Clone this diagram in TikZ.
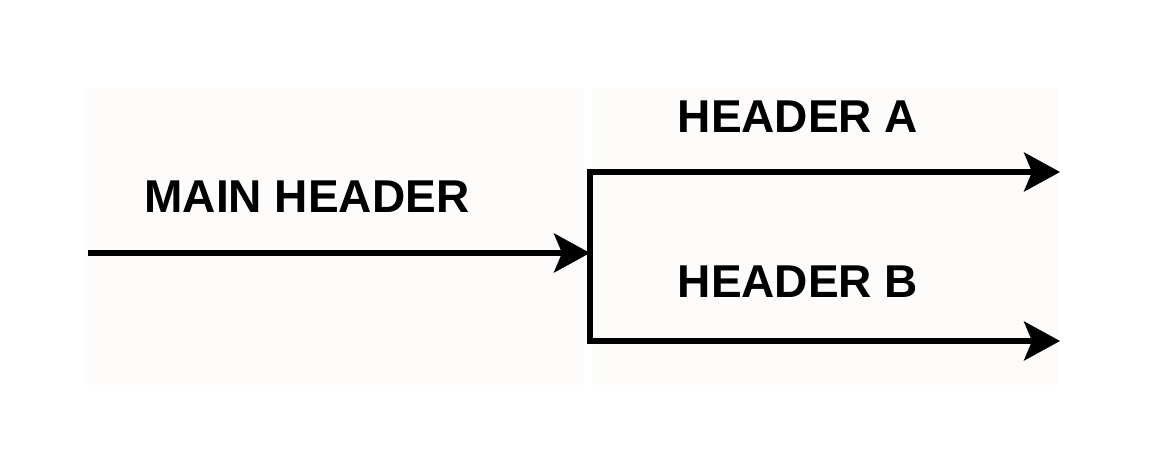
\documentclass[tikz,border=0pt]{standalone}
\usepackage{fontspec}
\setmainfont{Liberation Sans}
\usetikzlibrary{arrows.meta}
\definecolor{paper}{RGB}{254,252,250}

\begin{document}
\begin{tikzpicture}[
  every node/.style={font=\fontsize{26.2pt}{28pt}\selectfont\bfseries, inner sep=0pt},
  flow/.style={line width=2.95pt,
               -{Stealth[length=0.72cm, width=0.78cm, inset=0.16cm]}},
  panel/.style={fill=paper, draw=none}
]
\useasboundingbox (0,0) rectangle (23.48,-9.48);
\fill[panel] (1.68,-1.76) rectangle (11.66,-7.7);
\fill[panel] (11.86,-1.76) rectangle (21.16,-7.7);

\node (main) at (6.14,-3.94)  {MAIN HEADER};
\node (hdra) at (15.96,-2.34) {HEADER A};
\node (hdrb) at (15.96,-5.64) {HEADER B};

\coordinate (in)    at (1.76,-5.06);
\coordinate (split) at (11.8,-5.06);
\coordinate (top)   at (11.8,-3.44);
\coordinate (bot)   at (11.8,-6.82);
\coordinate (outa)  at (21.2,-3.44);
\coordinate (outb)  at (21.2,-6.82);

\draw[flow] (in) -- (split);
\draw[line width=2.95pt, line cap=rect] (top) -- (bot);
\draw[flow] (top) -- (outa);
\draw[flow] (bot) -- (outb);
\end{tikzpicture}
\end{document}
